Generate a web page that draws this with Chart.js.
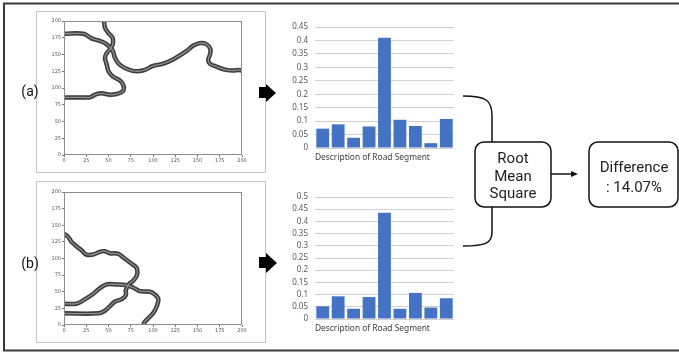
<!DOCTYPE html>
<html>
<head>
<meta charset="utf-8">
<script src="https://cdn.jsdelivr.net/npm/chart.js@4.4.1/dist/chart.umd.min.js"></script>
<style>
  html, body { margin: 0; padding: 0; background: #fff; }
  #stage { position: relative; width: 679px; height: 352px; overflow: hidden; }
  canvas { position: absolute; }
  svg { position: absolute; left: 0; top: 0; }
</style>
</head>
<body>
<div id="stage">
  <canvas id="roadA" width="210" height="155" style="left:40px;top:13px"></canvas>
  <canvas id="roadB" width="210" height="154" style="left:40px;top:184px"></canvas>
  <canvas id="barA" width="180" height="149" style="left:280px;top:14px"></canvas>
  <canvas id="barB" width="180" height="150" style="left:280px;top:184px"></canvas>
  <svg width="679" height="352" viewBox="0 0 679 352">
    <!-- outer frame -->
    <rect x="4" y="3.5" width="690" height="347" fill="none" stroke="#3a3a3a" stroke-width="2"/>
    <!-- panel frames -->
    <rect x="36.5" y="11.5" width="229" height="161" fill="none" stroke="#c4c4c4" stroke-width="1"/>
    <rect x="36.5" y="181.5" width="229" height="161" fill="none" stroke="#c4c4c4" stroke-width="1"/>
    <text x="30" y="96" font-family="Roboto, 'Noto Sans', sans-serif" font-size="14" fill="#111" text-anchor="middle">(a)</text>
    <text x="30" y="268" font-family="Roboto, 'Noto Sans', sans-serif" font-size="14" fill="#111" text-anchor="middle">(b)</text>
    <!-- block arrows -->
    <polygon points="259,87 266,87 266,84 276,93 266,102 266,98 259,98" fill="#000"/>
    <polygon points="259,257 266,257 266,253 277,263 266,273 266,268 259,268" fill="#000"/>
    <!-- bracket joining both histograms -->
    <path d="M463 96 C 486 96, 492 100, 492 116 L 492 142" fill="none" stroke="#111" stroke-width="1.5"/>
    <path d="M492 207 L 492 232 C 492 243, 486 246, 463 246" fill="none" stroke="#111" stroke-width="1.5"/>
    <rect x="475" y="142" width="76" height="65" rx="9" ry="9" fill="#fff" stroke="#111" stroke-width="1.5"/>
    <g font-family="Roboto, 'Noto Sans', sans-serif" font-size="15" fill="#222" text-anchor="middle">
      <text x="513" y="163">Root</text>
      <text x="513" y="181">Mean</text>
      <text x="513" y="198">Square</text>
    </g>
    <line x1="551" y1="174" x2="572" y2="174" stroke="#111" stroke-width="1.5"/>
    <polygon points="571,171 578,174 571,177" fill="#111"/>
    <rect x="589" y="142" width="89" height="65" rx="9" ry="9" fill="#fff" stroke="#111" stroke-width="1.5"/>
    <g font-family="Roboto, 'Noto Sans', sans-serif" font-size="15" fill="#222" text-anchor="middle">
      <text x="634" y="172">Difference</text>
      <text x="634" y="192">: 14.07%</text>
    </g>
  </svg>
</div>
<script>
// Road centre-lines, [x, y] in map units
const roadA1 = [[0,181],[22,181],[31,174],[38.5,171],[46,167],[51.5,161],[55,155],[57,146],[61,137],[68,130],[76,126],[83,125],[91,127],[100,133],[111,136],[123,143],[137.5,155],[145,163],[152.5,167],[160,165.5],[164.5,158],[164,150],[162,142],[164,136],[171,132],[182,127],[190,126],[195.5,127],[200,126]];
const roadA2 = [[45,200],[46,190],[50,182],[54.5,175],[55,167],[53,160],[48,152],[46,145],[48,135],[50,125],[55,117],[63,111],[67,103],[66,95],[59,91],[51.5,90],[42,92],[35,90],[29,86],[22,86],[0,86]];
const roadB1 = [[0,137],[5,132],[8.5,125],[14,118.5],[20,112],[25,106],[33,106],[40,110],[46,111],[51.5,108],[61,107],[68,100],[76,92],[81.5,86],[82,75],[78,67],[72,60],[69.5,52],[69.5,45],[65,39],[57,35],[51.5,28],[46,21.5],[38.5,17.5],[0,17.5]];
const roadB2 = [[0,32],[14,32],[21.5,37],[33,47],[40,55],[48,61],[59,61],[70,60],[78,56],[85,51],[96.5,50],[102,46],[106,39],[104,27],[100,17.5],[94.5,10],[91,5],[89,0]];

// Per-segment descriptor values
const segments = ['1','2','3','4','5','6','7','8','9'];
const histA = [0.072, 0.088, 0.038, 0.080, 0.410, 0.105, 0.082, 0.018, 0.108];
const histB = [0.052, 0.093, 0.042, 0.090, 0.435, 0.042, 0.107, 0.047, 0.085];
const histAMax = 0.45;
const histBMax = 0.5;
const axisTitle = 'Description of Road Segment';

Chart.defaults.animation = false;
Chart.defaults.responsive = false;
Chart.defaults.devicePixelRatio = 1;
Chart.defaults.plugins.legend.display = false;
Chart.defaults.plugins.tooltip.enabled = false;

// box around the map plotting area
const frame = {
  id: 'frame',
  afterDatasetsDraw(chart) {
    const a = chart.chartArea, ctx = chart.ctx;
    ctx.save();
    ctx.strokeStyle = '#8c8c8c';
    ctx.lineWidth = 1;
    ctx.strokeRect(Math.round(a.left) + 0.5, Math.round(a.top) + 0.5,
                   Math.round(a.width) - 1, Math.round(a.height) - 1);
    ctx.restore();
  }
};

function roadChart(id, roads, padTop, xHeight) {
  const datasets = [];
  roads.forEach(r => {
    const pts = r.map(p => ({x: p[0], y: p[1]}));
    datasets.push({data: pts, showLine: true, borderColor: '#3d3d3d', borderWidth: 4.5,
                   pointRadius: 0, tension: 0.35, order: 2});
    datasets.push({data: pts, showLine: true, borderColor: '#8f8f8f', borderWidth: 1.3,
                   pointRadius: 0, tension: 0.35, order: 1});
  });
  const tickFont = {family: "'DejaVu Sans', sans-serif", size: 5};
  new Chart(document.getElementById(id), {
    type: 'scatter',
    data: {datasets},
    options: {
      layout: {padding: {top: padTop, right: 8, left: 0, bottom: 0}},
      scales: {
        x: {
          type: 'linear', min: 0, max: 200,
          ticks: {stepSize: 25, font: tickFont, color: '#555', padding: 1, maxRotation: 0, autoSkip: false},
          grid: {drawOnChartArea: false, drawTicks: true, tickLength: 2, color: '#777'},
          border: {display: false},
          afterFit(s) { s.height = xHeight; }
        },
        y: {
          type: 'linear', min: 0, max: 200,
          ticks: {stepSize: 25, font: tickFont, color: '#555', padding: 1, autoSkip: false},
          grid: {drawOnChartArea: false, drawTicks: true, tickLength: 2, color: '#777'},
          border: {display: false},
          afterFit(s) { s.width = 24; }
        }
      }
    },
    plugins: [frame]
  });
}

function histChart(id, values, maxV, padTop) {
  new Chart(document.getElementById(id), {
    type: 'bar',
    data: {labels: segments, datasets: [{data: values, backgroundColor: '#4472C4',
           categoryPercentage: 1, barPercentage: 0.83}]},
    options: {
      layout: {padding: {top: padTop, right: 6, left: 0, bottom: 0}},
      scales: {
        x: {
          ticks: {display: false},
          grid: {display: false},
          border: {display: false},
          title: {display: true, text: axisTitle, align: 'start', color: '#404040',
                  padding: 0, font: {family: "'Noto Sans', sans-serif", size: 8.4}},
          afterFit(s) { s.height = 15; }
        },
        y: {
          min: 0, max: maxV,
          ticks: {stepSize: 0.05, color: '#595959', padding: 7, autoSkip: false,
                  font: {family: "'Noto Sans', sans-serif", size: 8},
                  callback: v => String(Math.round(v * 100) / 100)},
          grid: {color: '#d0d0d0', lineWidth: 1, drawTicks: false},
          border: {display: false},
          afterFit(s) { s.width = 35; }
        }
      }
    }
  });
}

roadChart('roadA', [roadA1, roadA2], 8, 13);
roadChart('roadB', [roadB1, roadB2], 8, 13);
histChart('barA', histA, histAMax, 13);
histChart('barB', histB, histBMax, 13);
</script>
</body>
</html>
